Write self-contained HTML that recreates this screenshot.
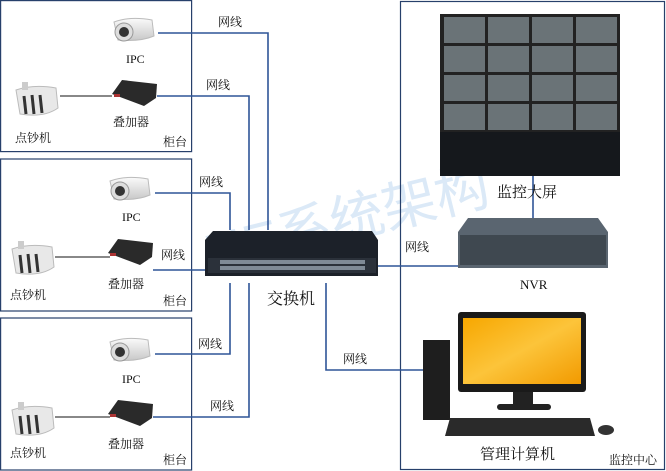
<!DOCTYPE html>
<html><head><meta charset="utf-8"><style>
html,body{margin:0;padding:0;background:#fff;}
svg{display:block;}
text{font-family:"Liberation Serif","Noto Serif CJK SC",serif;fill:#111;}
</style></head><body>
<svg width="666" height="471" viewBox="0 0 666 471" xmlns="http://www.w3.org/2000/svg">
<defs>
<linearGradient id="scr" x1="0" y1="0" x2="1" y2="1"><stop offset="0" stop-color="#f7a700"/><stop offset="0.5" stop-color="#fcc43a"/><stop offset="1" stop-color="#f29a00"/></linearGradient>
<linearGradient id="cam" x1="0" y1="0" x2="0" y2="1"><stop offset="0" stop-color="#fafafa"/><stop offset="1" stop-color="#c8c8c8"/></linearGradient>
</defs>
<!-- watermark -->
<text x="200" y="250" font-size="54" transform="rotate(-14 300 220)" style="fill:#dbe9f7;font-family:'Liberation Sans','Noto Sans CJK SC',sans-serif">NE系统架构</text>

<!-- boxes -->
<g fill="none" stroke="#27406b" stroke-width="1.2">
<rect x="0.6" y="0.6" width="191" height="151"/>
<rect x="0.6" y="159" width="191" height="152"/>
<rect x="0.6" y="318" width="191" height="152"/>
<rect x="400.5" y="1.5" width="264" height="468"/>
</g>

<!-- connectors -->
<g fill="none" stroke="#2f5597" stroke-width="1.6">
<polyline points="158,33 268,33 268,230"/>
<polyline points="157,96 249,96 249,230"/>
<polyline points="155,193 230,193 230,230"/>
<polyline points="153,270 205,270"/>
<polyline points="155,354 230,354 230,283"/>
<polyline points="153,417 249,417 249,283"/>
<polyline points="326,283 326,370 425,370"/>
<polyline points="378,266 458,266"/>
<polyline points="533,175 533,218"/>
</g>
<g stroke="#111" stroke-width="1">
<line x1="60" y1="96" x2="112" y2="96"/>
<line x1="55" y1="257" x2="110" y2="257"/>
<line x1="55" y1="417" x2="110" y2="417"/>
</g>

<g id="g1">
<g transform="translate(110,16)"><path d="M4 6 Q20 0 42 4 L44 20 Q30 26 8 24 Z" fill="url(#cam)" stroke="#bbb"/><circle cx="14" cy="16" r="9" fill="#ddd" stroke="#999"/><circle cx="14" cy="16" r="5" fill="#333"/></g>
<g transform="translate(112,80)"><path d="M0 14 L10 0 L45 4 L44 18 L32 26 Z" fill="#2a2a2a"/><rect x="2" y="14" width="6" height="3" fill="#a33"/></g>
<g transform="translate(14,80)"><path d="M2 10 Q20 4 42 8 L44 28 Q30 38 6 34 Z" fill="#e8e8e8" stroke="#bbb"/><path d="M10 16 l2 18 M18 15 l2 19 M26 15 l2 18" stroke="#333" stroke-width="3"/><rect x="8" y="2" width="6" height="8" fill="#ccc"/></g>
</g>
<use href="#g1" transform="translate(-4,159)"/>
<use href="#g1" transform="translate(-4,320)"/>

<g font-size="12">
<text x="126" y="63">IPC</text><text x="113" y="126">叠加器</text><text x="15" y="142">点钞机</text><text x="163" y="146">柜台</text>
<text x="122" y="221">IPC</text><text x="108" y="288">叠加器</text><text x="10" y="299">点钞机</text><text x="163" y="305">柜台</text>
<text x="122" y="383">IPC</text><text x="108" y="448">叠加器</text><text x="10" y="457">点钞机</text><text x="163" y="464">柜台</text>
<text x="218" y="26">网线</text><text x="206" y="89">网线</text><text x="199" y="186">网线</text><text x="161" y="259">网线</text>
<text x="198" y="348">网线</text><text x="210" y="410">网线</text><text x="343" y="363">网线</text><text x="405" y="251">网线</text>
</g>

<!-- switch -->
<path d="M213 231 L372 231 L378 240 L378 276 L205 276 L205 240 Z" fill="#1c2129"/>
<rect x="208" y="258" width="168" height="15" fill="#2b313a"/>
<g fill="#7f8a96">
<rect x="220" y="260" width="145" height="4"/><rect x="220" y="266" width="145" height="4"/>
</g>
<text x="267" y="304" font-size="16">交换机</text>

<!-- video wall -->
<rect x="440" y="14" width="180" height="120" fill="#222"/>
<g fill="#6a7377">
<rect x="444" y="17" width="41" height="26"/><rect x="488" y="17" width="41" height="26"/><rect x="532" y="17" width="41" height="26"/><rect x="576" y="17" width="41" height="26"/>
<rect x="444" y="46" width="41" height="26"/><rect x="488" y="46" width="41" height="26"/><rect x="532" y="46" width="41" height="26"/><rect x="576" y="46" width="41" height="26"/>
<rect x="444" y="75" width="41" height="26"/><rect x="488" y="75" width="41" height="26"/><rect x="532" y="75" width="41" height="26"/><rect x="576" y="75" width="41" height="26"/>
<rect x="444" y="104" width="41" height="26"/><rect x="488" y="104" width="41" height="26"/><rect x="532" y="104" width="41" height="26"/><rect x="576" y="104" width="41" height="26"/>
</g>
<rect x="440" y="132" width="180" height="44" fill="#15181c"/>
<text x="497" y="197" font-size="15">监控大屏</text>

<!-- NVR -->
<path d="M468 218 L598 218 L608 232 L608 268 L458 268 L458 232 Z" fill="#5a6570"/>
<rect x="460" y="235" width="146" height="30" fill="#3f4850"/>
<text x="520" y="289" font-size="13">NVR</text>

<!-- computer -->
<rect x="458" y="312" width="128" height="80" rx="3" fill="#1a1a1a"/>
<rect x="463" y="318" width="118" height="66" fill="url(#scr)"/>
<rect x="513" y="392" width="20" height="14" fill="#222"/><rect x="497" y="404" width="54" height="6" rx="3" fill="#222"/>
<rect x="423" y="340" width="27" height="80" fill="#1e1e1e"/>
<path d="M450 418 L590 418 L595 436 L445 436 Z" fill="#2a2a2a"/>
<ellipse cx="606" cy="430" rx="8" ry="5" fill="#333"/>
<text x="480" y="459" font-size="15">管理计算机</text>
<text x="609" y="464" font-size="12">监控中心</text>
</svg>
</body></html>
